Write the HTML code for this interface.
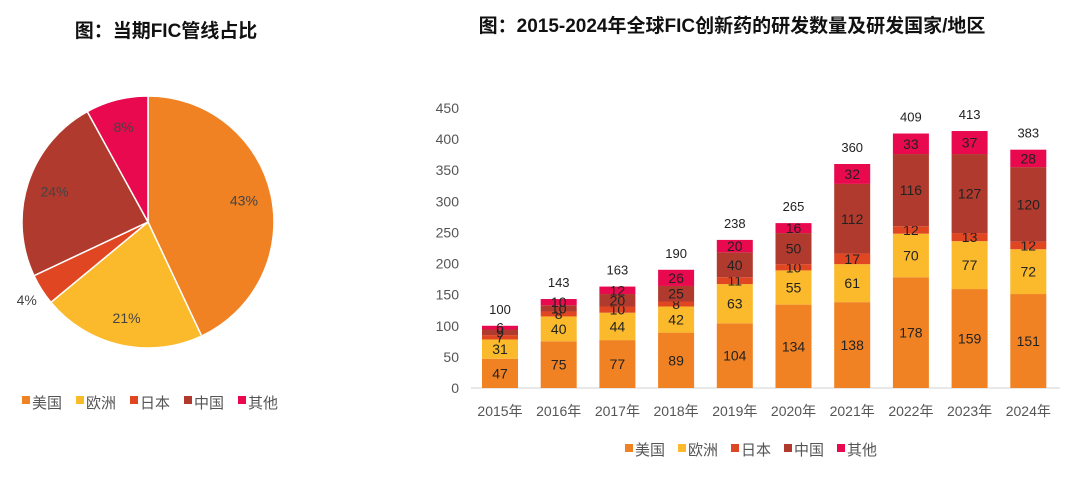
<!DOCTYPE html>
<html><head><meta charset="utf-8">
<style>
body{margin:0;background:#fff;width:1080px;height:478px;overflow:hidden;font-family:"Liberation Sans","Noto Sans CJK SC",sans-serif;}
svg{position:absolute;left:0;top:0}
</style></head>
<body>
<svg id="c" width="1080" height="478" xmlns="http://www.w3.org/2000/svg">
<text x="166" y="37" text-anchor="middle" font-size="19" font-weight="bold" fill="#111">图：当期FIC管线占比</text>
<text x="732" y="32" text-anchor="middle" font-size="19" font-weight="bold" fill="#111">图：2015-2024年全球FIC创新药的研发数量及研发国家/地区</text>
</svg>
<script>
const seriesNames=["美国","欧洲","日本","中国","其他"];
const colors=["#F08224","#FBBA2B","#E04622","#B03A2E","#E8094E"];
const pieValues=[43,21,4,24,8];
const years=["2015年","2016年","2017年","2018年","2019年","2020年","2021年","2022年","2023年","2024年"];
const usa=[47,75,77,89,104,134,138,178,159,151];
const europe=[31,40,44,42,63,55,61,70,77,72];
const japan=[7,8,10,8,11,10,17,12,13,12];
const china=[9,10,20,25,40,50,112,116,127,120];
const other=[6,10,12,26,20,16,32,33,37,28];
const totals=[100,143,163,190,238,265,360,409,413,383];
const yTicks=[0,50,100,150,200,250,300,350,400,450];

const NS="http://www.w3.org/2000/svg";
const svg=document.getElementById('c');
function mk(t,a,txt){const e=document.createElementNS(NS,t);for(const k in a)e.setAttribute(k,a[k]);if(txt!==undefined)e.textContent=txt;svg.appendChild(e);return e;}

// pie
const cx=148,cy=222,r=126;
const pieSum=pieValues.reduce((a,b)=>a+b,0);
let ang=-Math.PI/2;
pieValues.forEach((v,i)=>{
  const a2=ang+v/pieSum*2*Math.PI;
  const large=(a2-ang)>Math.PI?1:0;
  const p=mk('path',{d:`M${cx},${cy} L${cx+r*Math.cos(ang)},${cy+r*Math.sin(ang)} A${r},${r} 0 ${large} 1 ${cx+r*Math.cos(a2)},${cy+r*Math.sin(a2)} Z`,fill:colors[i],stroke:'#fff','stroke-width':1.5});
  
  
  const mid=(ang+a2)/2;
  const lr=(i==2)?r+20:r*0.78;
  const t=mk('text',{x:cx+lr*Math.cos(mid)+(i==2?2:0),y:cy+lr*Math.sin(mid)+5,'text-anchor':'middle','font-size':14,fill:'#444'},v+'%');
  
  
  ang=a2;
});
// pie legend
[22,76,130,184,238].forEach((x,i)=>{
  const s=mk('rect',{x:x,y:396,width:8,height:8,fill:colors[i]});
  
  
  const t=mk('text',{x:x+10,y:408,'font-size':15,fill:'#555'},seriesNames[i]);
  
  
});

// bar chart
const y0=388,yTop=108,yMax=450;
const yS=v=>y0-v*(y0-yTop)/yMax;
const x0=500,dx=58.7,bw=36;
const xS=i=>x0+i*dx;
yTicks.forEach(v=>{
  const t=mk('text',{x:459,y:yS(v)+5,'text-anchor':'end','font-size':14,fill:'#555'},v);
  
  
});
const ax=mk('line',{x1:471,x2:1060,y1:y0,y2:y0,stroke:'#d0d0d0','stroke-width':1});


const series=[usa,europe,japan,china,other];
years.forEach((yr,i)=>{
  let base=0;
  series.forEach((s,k)=>{
    const v=s[i];
    const b=mk('rect',{x:xS(i)-bw/2,y:yS(base+v),width:bw,height:yS(base)-yS(base+v),fill:colors[k]});
    
    
    const t=mk('text',{x:xS(i),y:(yS(base)+yS(base+v))/2+5,'text-anchor':'middle','font-size':14,fill:'#222'},v);
    
    
    base+=v;
  });
  const tt=mk('text',{x:xS(i),y:yS(totals[i])-12,'text-anchor':'middle','font-size':13,fill:'#222'},totals[i]);
  
  
  const xl=mk('text',{x:xS(i),y:416,'text-anchor':'middle','font-size':14,fill:'#555'},yr);
  
  
});
// bar legend
[625,678,731,784,837].forEach((x,i)=>{
  const s=mk('rect',{x:x,y:444,width:8,height:8,fill:colors[i]});
  
  
  const t=mk('text',{x:x+10,y:455,'font-size':15,fill:'#555'},seriesNames[i]);
  
  
});
</script>
</body></html>
